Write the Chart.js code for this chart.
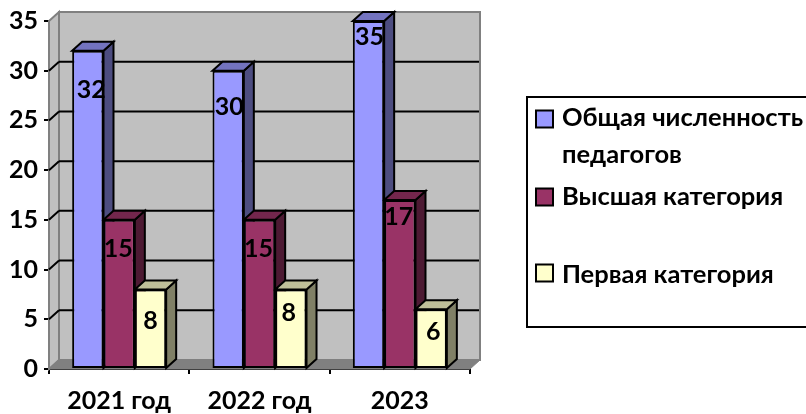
<!DOCTYPE html>
<html>
<head>
<meta charset="utf-8">
<style>html,body{margin:0;padding:0;background:#fff}canvas{display:block}</style>
<script src="https://cdn.jsdelivr.net/npm/chart.js@4"></script>
</head>
<body>
<canvas id="c" width="806" height="414"></canvas>
<script>
const categories = ['2021 год', '2022 год', '2023'];
const seriesNames = ['Общая численность педагогов', 'Высшая категория', 'Первая категория'];
const totalStaff = [32, 30, 35];
const highestCategory = [15, 15, 17];
const firstCategory = [8, 8, 6];
const seriesValues = [totalStaff, highestCategory, firstCategory];
const yTicks = [0, 5, 10, 15, 20, 25, 30, 35];

const FONT = '"Lato", "Liberation Sans", sans-serif';
const FSIZE = 25;
const DX = 10, DY = -9;
const fronts = ['#9999FF', '#993366', '#FFFFCC'];
const sides = ['#4D4D80', '#4D1A33', '#808066'];
const tops = ['#7373BF', '#73264D', '#BFBF99'];
const labelShift = [
  [[3.5, 39], [1, 36], [1, 16]],
  [[-1, 29], [-1, 29], [-1, 17]],
  [[0, 31], [-2, 23], [2, 23]]
];
const legendRows = [
  {swatchY: 119, lines: [['Общая численность', 118], ['педагогов', 155]]},
  {swatchY: 197, lines: [[seriesNames[1], 197]]},
  {swatchY: 273, lines: [[seriesNames[2], 275]]}
];

function poly(ctx, pts, fill, stroke, w) {
  ctx.beginPath();
  pts.forEach((p, i) => i ? ctx.lineTo(p[0], p[1]) : ctx.moveTo(p[0], p[1]));
  ctx.closePath();
  if (fill) { ctx.fillStyle = fill; ctx.fill(); }
  if (stroke) { ctx.strokeStyle = stroke; ctx.lineWidth = w; ctx.lineJoin = 'miter'; ctx.stroke(); }
}
function line(ctx, x1, y1, x2, y2, c, w) {
  ctx.beginPath(); ctx.moveTo(x1, y1); ctx.lineTo(x2, y2);
  ctx.strokeStyle = c; ctx.lineWidth = w; ctx.stroke();
}

const scene3d = {
  id: 'scene3d',
  beforeDatasetsDraw(chart) {
    const ctx = chart.ctx, y = chart.scales.y, a = chart.chartArea;
    const l = a.left, r = a.right, b = y.getPixelForValue(0), t = y.getPixelForValue(35);
    ctx.save();
    poly(ctx, [[l + DX, t + DY], [r + DX, t + DY], [r + DX, b + DY], [l + DX, b + DY]], '#C0C0C0', '#808080', 2);
    poly(ctx, [[l, t], [l + DX, t + DY], [l + DX, b + DY], [l, b]], '#C0C0C0', '#808080', 2);
    poly(ctx, [[l, b], [l + DX, b + DY], [r + DX, b + DY], [r, b]], '#808080', '#808080', 1);
    yTicks.forEach(v => {
      if (v === 0 || v === 35) return;
      const p = y.getPixelForValue(v);
      line(ctx, l + DX, p + DY, r + DX - 1, p + DY, '#000', 2);
      line(ctx, l, p, l + DX, p + DY, '#000', 2);
    });
    seriesValues.forEach((vals, i) => {
      chart.getDatasetMeta(i).data.forEach(bar => {
        const x0 = bar.x - bar.width / 2, x1 = bar.x + bar.width / 2, yt = bar.y, yb = bar.base;
        poly(ctx, [[x1, yt], [x1 + DX, yt + DY], [x1 + DX, yb + DY], [x1, yb]], sides[i], '#000', 2);
        poly(ctx, [[x0, yt], [x0 + DX, yt + DY], [x1 + DX, yt + DY], [x1, yt]], tops[i], '#000', 2);
      });
    });
    ctx.restore();
  },
  afterDatasetsDraw(chart) {
    const ctx = chart.ctx;
    ctx.save();
    ctx.font = 'bold ' + FSIZE + 'px ' + FONT;
    ctx.fillStyle = '#000';
    ctx.textAlign = 'center';
    ctx.textBaseline = 'middle';
    seriesValues.forEach((vals, i) => {
      chart.getDatasetMeta(i).data.forEach((bar, j) => {
        const s = labelShift[i][j];
        ctx.fillText(String(vals[j]), bar.x + s[0], bar.y + s[1]);
      });
    });
    ctx.strokeStyle = '#000';
    ctx.lineWidth = 2;
    ctx.strokeRect(527, 97, 300, 230);
    ctx.font = 'bold 25.5px ' + FONT;
    legendRows.forEach((row, i) => {
      ctx.fillStyle = fronts[i];
      ctx.fillRect(536, row.swatchY - 8.5, 17, 17);
      ctx.strokeRect(536, row.swatchY - 8.5, 17, 17);
      ctx.fillStyle = '#000';
      ctx.textAlign = 'left';
      row.lines.forEach(ln => ctx.fillText(ln[0], 562, ln[1]));
    });
    ctx.restore();
  }
};

new Chart(document.getElementById('c'), {
  type: 'bar',
  data: {
    labels: categories,
    datasets: seriesValues.map((vals, i) => ({
      label: seriesNames[i],
      data: vals,
      backgroundColor: fronts[i],
      borderColor: '#000',
      borderWidth: 2,
      borderSkipped: false,
      categoryPercentage: 0.67,
      barPercentage: 1
    }))
  },
  options: {
    responsive: false,
    animation: false,
    devicePixelRatio: 1,
    layout: {padding: {left: 0, right: 336, top: 21, bottom: 0}},
    plugins: {legend: {display: false}, tooltip: {enabled: false}, title: {display: false}},
    scales: {
      x: {
        offset: true,
        afterFit(s) { s.height = 45; },
        border: {color: '#000', width: 2},
        grid: {drawOnChartArea: false, drawTicks: true, tickLength: 5, lineWidth: 2, offset: true,
               tickColor: c => c.index === categories.length ? 'rgba(0,0,0,0)' : '#000'},
        ticks: {font: {family: FONT, size: FSIZE, weight: 'bold'}, color: '#000', padding: 12, maxRotation: 0, autoSkip: false}
      },
      y: {
        min: 0, max: 35,
        afterFit(s) { s.width = 49; },
        afterBuildTicks(s) { s.ticks = yTicks.map(v => ({value: v})); },
        border: {color: '#000', width: 2},
        grid: {drawOnChartArea: false, drawTicks: true, tickLength: 5, color: '#000', lineWidth: 2},
        ticks: {font: {family: FONT, size: FSIZE, weight: 'bold'}, color: '#000', padding: 6}
      }
    }
  },
  plugins: [scene3d]
});
</script>
</body>
</html>
